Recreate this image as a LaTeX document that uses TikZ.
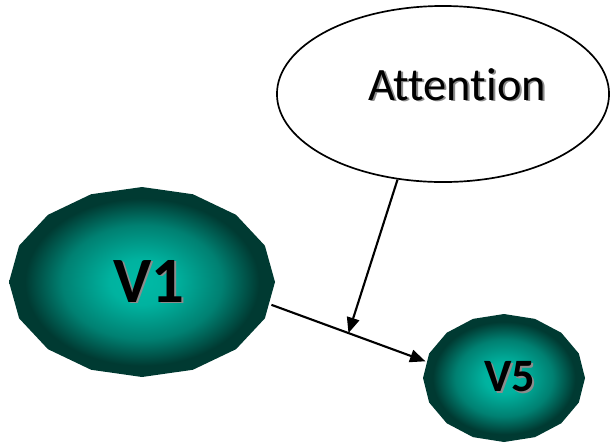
\documentclass[tikz,border=0pt]{standalone}
\usepackage{fontspec}
\setmainfont{Carlito}[Ligatures=NoCommon]
\usepackage{tikz}
\usetikzlibrary{shapes.geometric}
\usetikzlibrary{arrows.meta}
\usetikzlibrary{backgrounds}
\definecolor{vcore}{RGB}{0,186,166}
\definecolor{vrim}{RGB}{0,58,50}
\pgfdeclareradialshading{vglow}{\pgfpoint{0bp}{0bp}}{color(0bp)=(vcore); color(6bp)=(vcore!94!vrim); color(15bp)=(vcore!55!vrim); color(22bp)=(vrim); color(50bp)=(vrim)}
\newcommand{\shadowed}[1]{\makebox[0pt][l]{\hspace{1.4pt}\raisebox{-1.4pt}{\color{black!45}#1}}#1}
\tikzset{
area/.style={ % Invisible ellipse that carries the label and the anchors
ellipse, inner sep=0pt, font=\bfseries},
link/.style={ % Connectors with filled triangle heads
draw, line width=1.5pt, -{Triangle[length=11pt,width=9pt]}}}

\begin{document}
\begin{tikzpicture}[x=0.025cm, y=-0.025cm]
\useasboundingbox (0,0) rectangle (611,443);
\node[ellipse, draw, line width=1.2pt, minimum width=8.3cm, minimum height=4.4cm,
  label={[font=\fontsize{33}{33}\selectfont, xshift=0.35cm, yshift=0.22cm]center:\shadowed{Attention}}] (att) at (443,94) {};
\node[area, minimum width=6.65cm, minimum height=4.75cm,
  font=\bfseries\fontsize{46}{46}\selectfont] (v1) at (142,282) {\hspace*{10pt}\shadowed{V1}};
\node[area, minimum width=4.05cm, minimum height=3.2cm,
  font=\bfseries\fontsize{33}{33}\selectfont] (v5) at (504,378) {\hspace*{8pt}\shadowed{V5}};
% shaded 16-gons behind the two areas
\begin{pgfonlayer}{background}
\foreach \n/\rx/\ry in {v1/133/95, v5/81/64}
  \shade[shading=vglow, shift={(\n.center)}] (\rx,0)
    \foreach \a in {22.5,45,...,337.5} { -- ({\rx*cos(\a)},{\ry*sin(\a)}) } -- cycle;
\end{pgfonlayer}
\draw[link] (v1.-10) -- coordinate[pos=0.5] (mid) (v5.168);
\draw[link] (att.-118) -- (mid);
\end{tikzpicture}
\end{document}
